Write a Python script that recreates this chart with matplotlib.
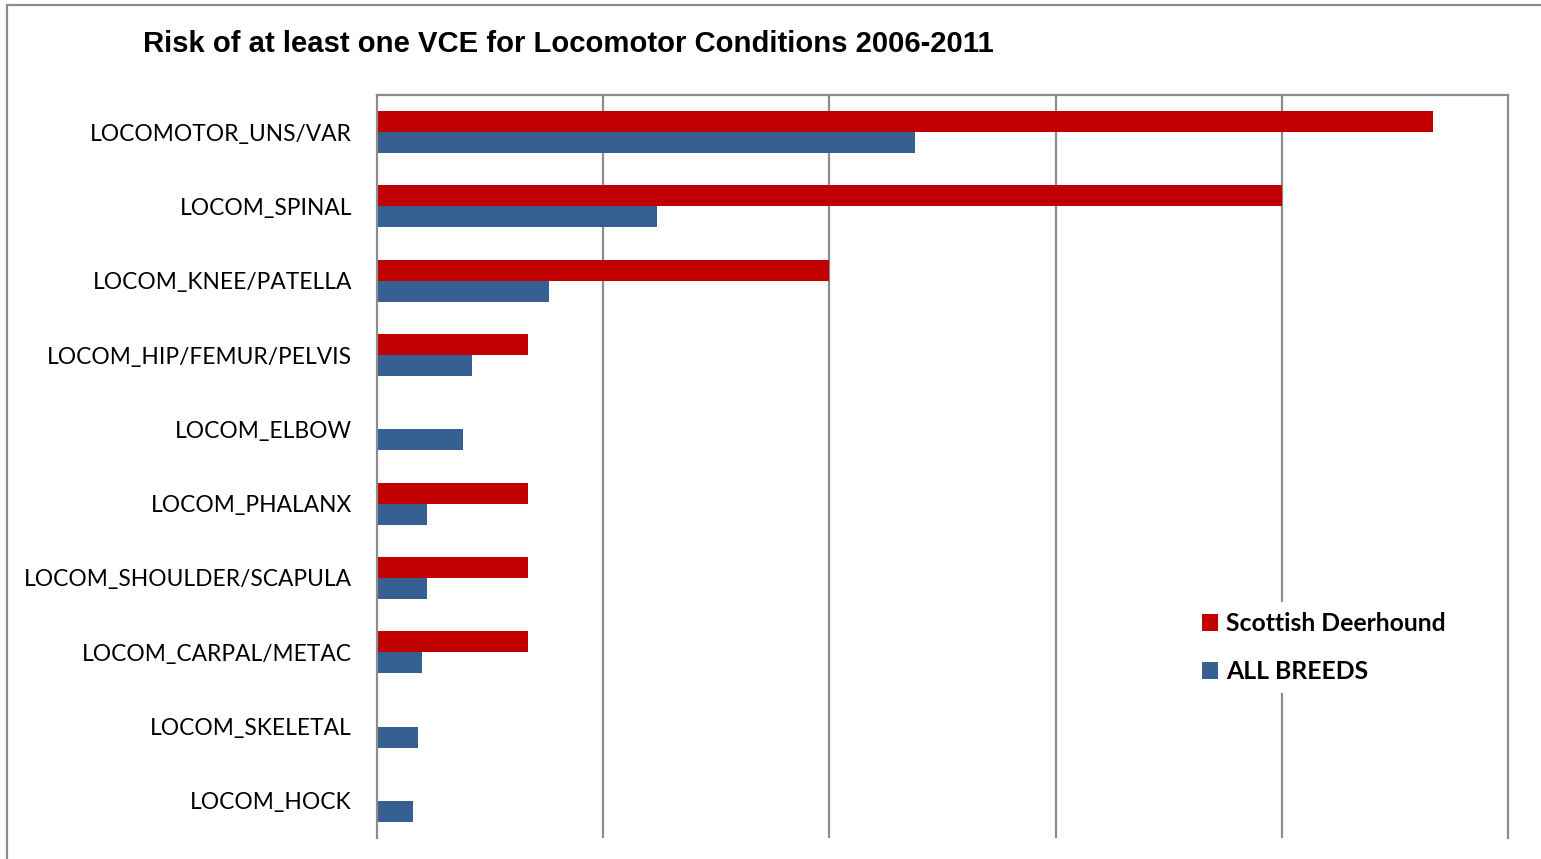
import matplotlib
matplotlib.use("Agg")
import matplotlib.pyplot as plt
import matplotlib.patches as mpatches
import numpy as np

W, H = 1541, 859

categories = ["LOCOMOTOR_UNS/VAR", "LOCOM_SPINAL", "LOCOM_KNEE/PATELLA",
              "LOCOM_HIP/FEMUR/PELVIS", "LOCOM_ELBOW", "LOCOM_PHALANX",
              "LOCOM_SHOULDER/SCAPULA", "LOCOM_CARPAL/METAC",
              "LOCOM_SKELETAL", "LOCOM_HOCK"]
deerhound = [4.667, 4.0, 2.0, 0.667, 0.0, 0.667, 0.667, 0.667, 0.0, 0.0]
all_breeds = [2.38, 1.24, 0.76, 0.42, 0.38, 0.22, 0.22, 0.20, 0.18, 0.16]

RED = "#C00000"
BLUE = "#376092"
GRID = "#8c8c8c"


def main():
    fig = plt.figure(figsize=(W / 100, H / 100), dpi=100)

    # outer chart border
    fig.patches.append(mpatches.Rectangle(
        (7 / W, -0.1), 1.2, 1 - 5 / H + 0.1, transform=fig.transFigure,
        fill=False, edgecolor=GRID, linewidth=1.6))

    ax = fig.add_axes([377 / W, 1 - 838 / H, (1508 - 377) / W, (838 - 95) / H])

    y = np.arange(len(categories))
    h = 0.283
    ax.barh(y - h / 2, deerhound, height=h, color=RED, label="Scottish Deerhound")
    ax.barh(y + h / 2, all_breeds, height=h, color=BLUE, label="ALL BREEDS")

    ax.set_xlim(0, 5)
    ax.set_ylim(len(categories) - 0.5, -0.5)
    ax.set_xticks([1, 2, 3, 4])
    ax.xaxis.grid(True, color=GRID, linewidth=1.6)
    ax.set_axisbelow(True)
    ax.tick_params(axis="x", length=0, labelbottom=False)
    ax.tick_params(axis="y", length=0, pad=18)
    ax.set_yticks(y)
    ax.set_yticklabels(categories, fontsize=16.4, family="Lato")

    for side in ["top", "left", "right"]:
        ax.spines[side].set_color(GRID)
        ax.spines[side].set_linewidth(1.6)
    ax.spines["bottom"].set_visible(False)

    fig.text(143 / W, 1 - 44 / H,
             "Risk of at least one VCE for Locomotor Conditions 2006-2011",
             fontsize=21.1, fontweight="bold", family="Liberation Sans",
             va="center", ha="left")

    ax.legend(loc="upper left", bbox_to_anchor=(1180 / W, 1 - 590 / H),
              bbox_transform=fig.transFigure, frameon=True,
              facecolor="white", edgecolor="none", framealpha=1,
              prop={"family": "Lato", "weight": "bold", "size": 17.8},
              handlelength=0.65, handleheight=0.65, handletextpad=0.3,
              labelspacing=1.0, borderpad=0.4, fancybox=False)

    plt.savefig("out.png", dpi=100)
    plt.close()


if __name__ == "__main__":
    main()
